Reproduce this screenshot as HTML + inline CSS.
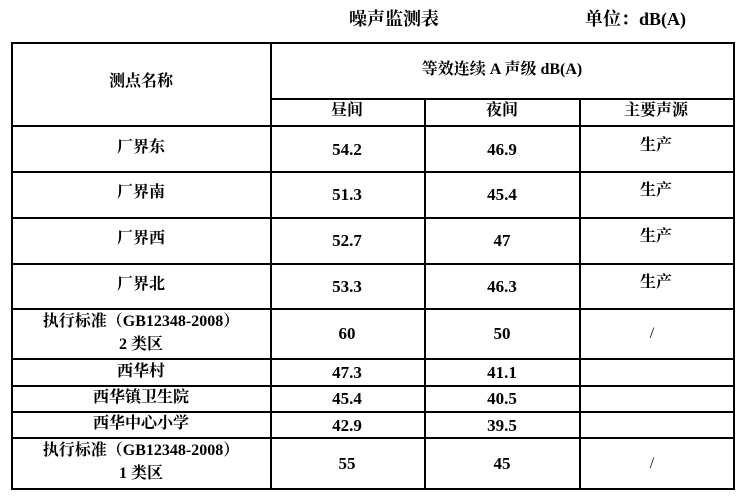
<!DOCTYPE html>
<html><head><meta charset="utf-8"><style>
body{margin:0;width:741px;height:498px;background:#fff;position:relative;font-family:"Liberation Serif","Noto Serif CJK SC",serif;font-weight:bold;font-size:16px;color:#000}
.t{position:absolute;white-space:nowrap;font-size:18px}
.h{position:absolute;height:2px;background:#000}
.v{position:absolute;width:2px;background:#000}
.c{position:absolute;text-align:center;white-space:nowrap;transform:translate(-50%,-50%);line-height:28px}
.n{font-size:17px}
</style></head><body>
<div class="t" style="left:349px;top:5px">噪声监测表</div>
<div class="t" style="left:585px;top:5px">单位：dB(A)</div>

<div class="h" style="left:11px;width:723px;top:42px"></div>
<div class="h" style="left:271px;width:463px;top:98px"></div>
<div class="h" style="left:11px;width:723px;top:125px"></div>
<div class="h" style="left:11px;width:723px;top:171px"></div>
<div class="h" style="left:11px;width:723px;top:217px"></div>
<div class="h" style="left:11px;width:723px;top:263px"></div>
<div class="h" style="left:11px;width:723px;top:308px"></div>
<div class="h" style="left:11px;width:723px;top:358px"></div>
<div class="h" style="left:11px;width:723px;top:385px"></div>
<div class="h" style="left:11px;width:723px;top:411px"></div>
<div class="h" style="left:11px;width:723px;top:437px"></div>
<div class="h" style="left:11px;width:723px;top:488px"></div>

<div class="v" style="left:11px;top:42px;height:448px"></div>
<div class="v" style="left:270px;top:42px;height:448px"></div>
<div class="v" style="left:424px;top:98px;height:392px"></div>
<div class="v" style="left:579px;top:98px;height:392px"></div>
<div class="v" style="left:733px;top:42px;height:448px"></div>

<div class="c" style="left:141px;top:82px">测点名称</div>
<div class="c" style="left:502px;top:70px">等效连续 A 声级 dB(A)</div>
<div class="c" style="left:347px;top:111px">昼间</div>
<div class="c" style="left:502px;top:111px">夜间</div>
<div class="c" style="left:656px;top:111px">主要声源</div>

<div class="c" style="left:141px;top:148px">厂界东</div>
<div class="c n" style="left:347px;top:150px">54.2</div>
<div class="c n" style="left:502px;top:150px">46.9</div>
<div class="c" style="left:656px;top:146px">生产</div>

<div class="c" style="left:141px;top:193px">厂界南</div>
<div class="c n" style="left:347px;top:195px">51.3</div>
<div class="c n" style="left:502px;top:195px">45.4</div>
<div class="c" style="left:656px;top:191px">生产</div>

<div class="c" style="left:141px;top:239px">厂界西</div>
<div class="c n" style="left:347px;top:241px">52.7</div>
<div class="c n" style="left:502px;top:241px">47</div>
<div class="c" style="left:656px;top:237px">生产</div>

<div class="c" style="left:141px;top:285px">厂界北</div>
<div class="c n" style="left:347px;top:287px">53.3</div>
<div class="c n" style="left:502px;top:287px">46.3</div>
<div class="c" style="left:656px;top:283px">生产</div>

<div class="c" style="left:141px;top:333px;line-height:23px">执行标准（GB12348-2008）<br>2 类区</div>
<div class="c n" style="left:347px;top:334px">60</div>
<div class="c n" style="left:502px;top:334px">50</div>
<div class="c" style="left:652px;top:334px;font-weight:normal">/</div>

<div class="c" style="left:141px;top:372px">西华村</div>
<div class="c n" style="left:347px;top:373px">47.3</div>
<div class="c n" style="left:502px;top:373px">41.1</div>

<div class="c" style="left:141px;top:398px">西华镇卫生院</div>
<div class="c n" style="left:347px;top:399px">45.4</div>
<div class="c n" style="left:502px;top:399px">40.5</div>

<div class="c" style="left:141px;top:424px">西华中心小学</div>
<div class="c n" style="left:347px;top:426px">42.9</div>
<div class="c n" style="left:502px;top:426px">39.5</div>

<div class="c" style="left:141px;top:462px;line-height:23px">执行标准（GB12348-2008）<br>1 类区</div>
<div class="c n" style="left:347px;top:464px">55</div>
<div class="c n" style="left:502px;top:464px">45</div>
<div class="c" style="left:652px;top:464px;font-weight:normal">/</div>
</body></html>
